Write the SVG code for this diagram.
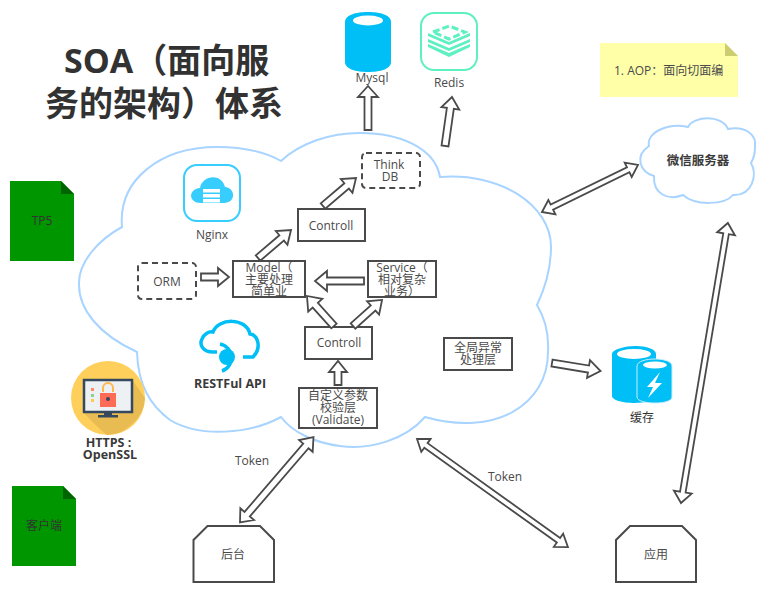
<svg xmlns="http://www.w3.org/2000/svg" width="764" height="598" viewBox="0 0 764 598">
<style>
text{font-family:"Open Sans","Noto Sans CJK SC",sans-serif;font-size:12px;fill:#4a4a4a;text-anchor:middle}
.b{font-weight:700;font-size:12.500px;fill:#3a3a3a}
.title{font-size:34px;font-weight:700;fill:#323232;text-anchor:start}
.box{fill:#fff;stroke:#4a4a4a;stroke-width:2}
.dash{fill:#fff;stroke:#4a4a4a;stroke-width:2;stroke-dasharray:6 4}
.cloud{fill:#fff;stroke:#a8d4ff;stroke-width:2;stroke-linejoin:miter}
.arrow{fill:#fff;stroke:#4a4a4a;stroke-width:1.800;stroke-linejoin:miter}
.blue{fill:#00bef6}
.doc{fill:#009600}
.fold{fill:#006400}
.dark{fill:#333}
</style>
<rect width="764" height="598" fill="#fff"/>
<g id="main-cloud"><path class="cloud" d="M122 227C118 180 160 147 217 147C245 147 265 152 281 161C300 143 330 133 360 133C400 133 435 148 440 177C500 172 551 205 551 247C551 268 546 286 537 305C546 320 549 335 548 352C548 405 495 437 425 417C405 440 370 450 340 446C315 443 292 432 281 417C250 434 200 438 170 420C150 405 138 385 137 352C100 335 78 310 79 283C79 262 98 240 122 227Z"/></g>
<g id="title"><text class="title" x="64" y="73">SOA（面向服</text><text class="title" x="45" y="116">务的架构）体系</text></g>
<g id="tp5"><path class="doc" d="M10 181H61L74 194V261H10Z"/><path class="fold" d="M61 181L74 194H61Z"/><text class="dark" x="42" y="225">TP5</text></g>
<g id="client"><path class="doc" d="M12 486H63L76 499V566H12Z"/><path class="fold" d="M63 486L76 499H63Z"/><text class="dark" x="44" y="530">客户端</text></g>
<g id="note"><path d="M600 43H725L738 56V97H600Z" fill="#ffffa8"/><path d="M725 43L738 56H725Z" fill="#cccc70"/><text x="614" y="75" style="text-anchor:start">1. AOP：面向切面编</text></g>
<g id="mysql"><path class="blue" d="M345 22C345 15 356 12 368 12S391 15 391 22V62C391 69 380 72 368 72S345 69 345 62Z"/><ellipse cx="368" cy="20.500" rx="15" ry="5" fill="#fff"/><text x="372" y="82">Mysql</text></g>
<g id="redis"><rect x="421" y="13" width="56" height="57" rx="13" fill="#fff" stroke="#5ef0c0" stroke-width="2"/><g fill="#5ef0c0"><path d="M449 42L428 33V36L449 45L470 36V33Z"/><path d="M449 48L428 39V42L449 51L470 42V39Z"/><path d="M449 53L428 44V47L449 57L470 47V44Z"/></g><path d="M433 32L449 26L465 32L449 39Z" fill="none" stroke="#5ef0c0" stroke-width="3" stroke-dasharray="7 3"/><text x="449" y="87">Redis</text></g>
<g id="wechat"><path class="cloud" d="M688 127C693 116 722 114 728 129C745 126 757 134 755 147C755 153 754 158 751 163C758 175 752 196 733 195C725 205 695 206 683 195C668 201 653 194 654 176C640 172 634 156 649 146C646 133 668 122 688 127Z"/><text class="b" x="698" y="165">微信服务器</text></g>
<g id="nginx"><rect x="184" y="165" width="56" height="56" rx="13" fill="#fff" stroke="#37cdff" stroke-width="2"/><path d="M201 203C188 203 188 189 200 188C203 174 222 174 225 187C236 188 236 203 224 203Z" fill="#37cdff"/><g fill="#fff"><rect x="203" y="189" width="17" height="3.500"/><rect x="203" y="194" width="17" height="3.500"/><rect x="203" y="199" width="17" height="3.500"/></g><text x="212" y="239">Nginx</text></g>
<g id="restful"><path d="M217 352H213C203 352 199 345 202 339C204 334 209 331 213 332C218 318 246 317 250 334C258 335 262 348 253 357H243" fill="none" stroke="#00bef6" stroke-width="3.500"/><circle cx="227" cy="357" r="8" fill="#00bef6"/><path d="M220 344A14 14 0 0 1 222 371" fill="none" stroke="#00bef6" stroke-width="3.500"/><text class="b" x="230" y="388">RESTFul API</text></g>
<g id="https"><circle cx="108" cy="398" r="37" fill="#ffcf5c"/><path d="M133 381V411H117L131 425A37 37 0 0 0 145 398Z M84 413L117 411L131 425A37 37 0 0 1 108 435C105 434 98 428 84 413Z" fill="#e8bc52"/><rect x="84" y="380" width="48" height="32" fill="#edf1f3" stroke="#34495e" stroke-width="2.500"/><rect x="104" y="412" width="8" height="4" fill="#34495e"/><rect x="98" y="415" width="20" height="2.500" fill="#34495e"/><rect x="91" y="388" width="3" height="3" fill="#ff8a65"/><rect x="91" y="394" width="3" height="3" fill="#8ed08e"/><rect x="91" y="399" width="3" height="3" fill="#ffc94d"/><path d="M103 392V388A5 5 0 0 1 113 388V392" fill="none" stroke="#ffb84d" stroke-width="2"/><rect x="100" y="393" width="16" height="14" fill="#ff6b57"/><circle cx="108" cy="399" r="2" fill="#34495e"/><text class="b" x="108.500" y="447">HTTPS :</text><text class="b" x="110" y="459">OpenSSL</text></g>
<g id="cache"><path class="blue" d="M612 354C612 349 626 346 636 346S656 349 656 354V396C656 400 646 403 634 403S612 400 612 396Z"/><ellipse cx="634" cy="354" rx="17" ry="5" fill="#fff"/><path class="blue" stroke="#c8eefc" stroke-width="1" d="M637 366C637 361 647 359 655 359S672 361 672 366V397C672 401 664 403 655 403S637 401 637 397Z"/><ellipse cx="655" cy="365" rx="12" ry="3.500" fill="#fff"/><path d="M660 372L647 387H653L648 398L662 383H655Z" fill="#fff"/><text class="dark" x="642" y="422">缓存</text></g>
<g id="controll-top"><rect class="box" x="298" y="209" width="67" height="32"/><text x="331" y="230">Controll</text></g>
<g id="thinkdb"><rect class="dash" x="362" y="153" width="58" height="35" rx="4"/><text x="389" y="169">Think</text><text x="390" y="181">DB</text></g>
<g id="orm"><rect class="dash" x="138" y="263" width="58" height="36" rx="4"/><text x="167" y="286">ORM</text></g>
<g id="model"><rect class="box" x="233" y="261" width="72" height="36"/><text x="269" y="272">Model（</text><text x="269" y="284">主要处理</text><text x="269" y="296">简单业</text></g>
<g id="service"><rect class="box" x="368" y="261" width="68" height="36"/><text x="402" y="272">Service（</text><text x="402" y="284">相对复杂</text><text x="402" y="296">业务）</text></g>
<g id="controll-low"><rect class="box" x="305" y="327" width="67" height="32"/><text x="339" y="347">Controll</text></g>
<g id="validate"><rect class="box" x="299" y="388" width="78" height="40"/><text x="338" y="400">自定义参数</text><text x="338" y="412">校验层</text><text x="338" y="424">(Validate)</text></g>
<g id="exception"><rect class="box" x="444" y="338" width="68" height="32"/><text x="478" y="352">全局异常</text><text x="478" y="364">处理层</text></g>
<g id="backend"><path class="box" d="M207.500 526H260L274 540V582H193.500V540Z"/><text x="233" y="559">后台</text></g>
<g id="app"><path class="box" d="M630 526H682L696 540V582H616V540Z"/><text x="656" y="559">应用</text></g>
<g id="connectors">
<polygon class="arrow" transform="translate(368 130) rotate(-90)" points="0,-3.500 33,-3.500 33,-10 44,0 33,10 33,3.500 0,3.500"/>
<polygon class="arrow" transform="translate(445 146) rotate(-81.900)" points="0,-3.500 38,-3.500 38,-9 49.500,0 38,9 38,3.500 0,3.500"/>
<polygon class="arrow" transform="translate(323 206) rotate(-40.300)" points="0,-3.500 31,-3.500 31,-9 43.300,0 31,9 31,3.500 0,3.500"/>
<polygon class="arrow" transform="translate(258 258) rotate(-40.300)" points="0,-3.500 31,-3.500 31,-9 43.300,0 31,9 31,3.500 0,3.500"/>
<polygon class="arrow" transform="translate(201 277)" points="0,-3.500 17,-3.500 17,-9 28,0 17,9 17,3.500 0,3.500"/>
<polygon class="arrow" transform="translate(364 281) rotate(180)" points="0,-3.500 37,-3.500 37,-10 49,0 37,10 37,3.500 0,3.500"/>
<polygon class="arrow" transform="translate(334 326) rotate(-132)" points="0,-3.500 28,-3.500 28,-9.500 40.400,0 28,9.500 28,3.500 0,3.500"/>
<polygon class="arrow" transform="translate(353 326) rotate(-41.900)" points="0,-3.500 27,-3.500 27,-9 39,0 27,9 27,3.500 0,3.500"/>
<polygon class="arrow" transform="translate(338 385) rotate(-90)" points="0,-3.500 13,-3.500 13,-9 24,0 13,9 13,3.500 0,3.500"/>
<polygon class="arrow" transform="translate(240 522.500) rotate(-49.300)" points="0,0 11,-9 11,-3.500 101,-3.500 101,-9 112.700,0 101,9 101,3.500 11,3.500 11,9"/>
<polygon class="arrow" transform="translate(417 439) rotate(35.600)" points="0,0 11,-8 11,-2.800 174,-2.800 174,-8 185.600,0 174,8 174,2.800 11,2.800 11,8"/>
<polygon class="arrow" transform="translate(552 363) rotate(9.400)" points="0,-3.500 37,-3.500 37,-9 49.200,0 37,9 37,3.500 0,3.500"/>
<polygon class="arrow" transform="translate(542 212) rotate(-26.100)" points="0,0 11,-8 11,-2.800 96,-2.800 96,-8 106.900,0 96,8 96,2.800 11,2.800 11,8"/>
<polygon class="arrow" transform="translate(681 503) rotate(-80.500)" points="0,0 11,-9 11,-2.800 273,-2.800 273,-9 283.900,0 273,9 273,2.800 11,2.800 11,9"/>
<text x="252" y="465">Token</text>
<text x="505" y="481">Token</text>
</g>
</svg>
